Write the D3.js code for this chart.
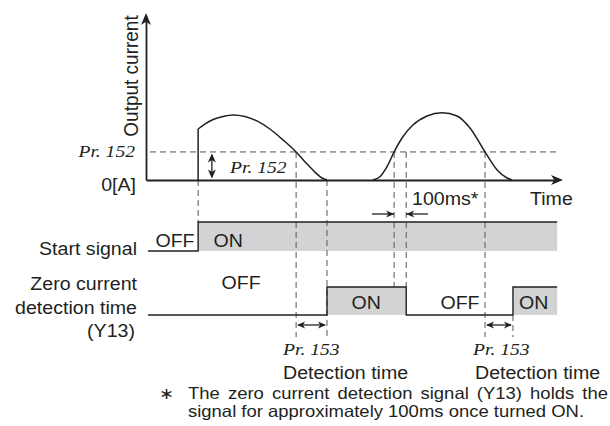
<!DOCTYPE html>
<html><head><meta charset="utf-8">
<script src="https://cdn.jsdelivr.net/npm/d3@7"></script>
<style>html,body{margin:0;padding:0;background:#fff;} svg{display:block}</style>
</head><body><svg id="c" width="610" height="426"></svg>
<script>
// ---------------- data ----------------
// output current (time units 0..100, current units 0..100)
const jump1 = [[12.5, 0], [12.5, 30.9]];
const hump1 = [[12.5,30.9],[14.1,33.9],[16.1,36.7],[18.5,38.5],[20.9,39.4],[23.7,38.5],[26.6,35.8],[29.7,30.9],[32.9,24.2],[36.0,17.0],[38.4,10.3],[40.5,4.8],[42.2,1.2],[43.4,0]];
const hump2 = [[54.4,0],[56.1,2.0],[57.8,8.1],[59.5,17.0],[61.6,26.2],[64.0,33.3],[67.4,38.8],[71.0,40.8],[74.6,38.8],[77.7,31.5],[81.3,17.0],[84.2,6.1],[86.6,1.2],[87.8,0]];
const threshold = 17;          // Pr. 152
const startSignal = [[0.5,0],[12.5,1],[98.6,1]];          // step after
const y13Signal   = [[0.5,0],[43.4,1],[62.4,0],[88.0,1],[98.6,1]];
const startLabels = [["OFF",6.95,0],["ON",19.7,0]];
const y13Labels   = [["OFF",22.8,-1],["ON",52.8,0],["OFF",75.3,0],["ON",93.0,0]];
const footnote = ["The zero current detection signal (Y13) holds the", "signal for approximately 100ms once turned ON."];

// ---------------- setup ----------------
const svg = d3.select("#c");
const INK = "#231f20", DASH = "#555", FILL = "#d1d3d4";
const SX = 1.12, FS = 17.5;
const x = d3.scaleLinear().domain([0,100]).range([146,563]);
const y = d3.scaleLinear().domain([0,100]).range([180,15]);
const yStart = d3.scaleLinear().domain([0,1]).range([251,222]);
const yZero  = d3.scaleLinear().domain([0,1]).range([315,287]);

function txt(px, py, s, o = {}) {
  return svg.append("text")
    .attr("transform", `translate(${px},${py})` + (o.rot ? ` rotate(${o.rot})` : "") + ` scale(${o.sx || SX},${o.sy || 1})`)
    .attr("font-family", o.serif ? "'Liberation Serif','Times New Roman',serif" : "'Liberation Sans',Arial,sans-serif")
    .attr("font-size", o.size || FS)
    .attr("font-style", o.serif ? "italic" : "normal")
    .attr("text-anchor", o.anchor || "start")
    .attr("fill", INK).text(s);
}
function head(tx, ty, ang, len = 9, w = 8) {
  svg.append("path")
    .attr("d", `M0,0 L${-len},${-w/2} L${-len*0.72},0 L${-len},${w/2} Z`)
    .attr("transform", `translate(${tx},${ty}) rotate(${ang})`)
    .attr("fill", INK);
}
function vdash(t, y1, y2) {
  svg.append("line").attr("x1", x(t)).attr("x2", x(t)).attr("y1", y1).attr("y2", y2)
    .attr("stroke", DASH).attr("stroke-width", 1).attr("stroke-dasharray", "6,4");
}
function hline(x1, x2, yy) {
  svg.append("line").attr("x1", x1).attr("x2", x2).attr("y1", yy).attr("y2", yy)
    .attr("stroke", INK).attr("stroke-width", 1.3);
}

// ---------------- signals (fills first) ----------------
const areaS = d3.area().curve(d3.curveStepAfter).x(d => x(d[0])).y0(yStart(0)).y1(d => yStart(d[1]));
const areaZ = d3.area().curve(d3.curveStepAfter).x(d => x(d[0])).y0(yZero(0)).y1(d => yZero(d[1]));
svg.append("path").attr("d", areaS(startSignal)).attr("fill", FILL);
svg.append("path").attr("d", areaZ(y13Signal)).attr("fill", FILL);

// dashed helper lines
const tOn = startSignal[1][0];
vdash(tOn, y(0), yStart(1));
vdash(hump1[9][0], y(threshold), 337);
vdash(hump1[hump1.length-1][0], y(0), 337);
vdash(hump2[3][0], y(threshold), yZero(1));
vdash(y13Signal[2][0], y(threshold), yZero(1));
vdash(hump2[10][0], y(threshold), 337);
vdash(y13Signal[3][0], yZero(0), 337);

// threshold line
svg.append("line").attr("x1", x(0)).attr("x2", x(99.3)).attr("y1", y(threshold)).attr("y2", y(threshold))
  .attr("stroke", DASH).attr("stroke-width", 1).attr("stroke-dasharray", "6,4").attr("stroke-dashoffset", -4);

const lineS = d3.line().curve(d3.curveStepAfter).x(d => x(d[0])).y(d => yStart(d[1]));
const lineZ = d3.line().curve(d3.curveStepAfter).x(d => x(d[0])).y(d => yZero(d[1]));
svg.append("path").attr("d", lineS(startSignal)).attr("fill", "none").attr("stroke", INK).attr("stroke-width", 1.4);
svg.append("path").attr("d", lineZ(y13Signal)).attr("fill", "none").attr("stroke", INK).attr("stroke-width", 1.4);

// ---------------- axes ----------------
const yAxis = d3.axisLeft(d3.scaleLinear().domain([0,1]).range([y(0), 20])).tickValues([]).tickSizeOuter(0);
const xAxis = d3.axisBottom(d3.scaleLinear().domain([0,1]).range([x(0), x(100) - 6])).tickValues([]).tickSizeOuter(0);
svg.append("g").attr("transform", `translate(${x(0)},0)`).call(yAxis)
  .select(".domain").attr("stroke", INK).attr("stroke-width", 1.8);
svg.append("g").attr("transform", `translate(0,${y(0)})`).call(xAxis)
  .select(".domain").attr("stroke", INK).attr("stroke-width", 1.8);
head(x(0), 13, -90, 12, 10);
head(x(100), y(0), 0, 12, 10);

// ---------------- current curve ----------------
const curve = d3.line().curve(d3.curveMonotoneX).x(d => x(d[0])).y(d => y(d[1]));
[jump1, hump1, hump2].forEach(dd =>
  svg.append("path").attr("d", (dd === jump1 ? d3.line().x(d => x(d[0])).y(d => y(d[1])) : curve)(dd))
    .attr("fill", "none").attr("stroke", INK).attr("stroke-width", 1.5));

// Pr.152 double arrow
const ta = 15.8;
svg.append("line").attr("x1", x(ta)).attr("x2", x(ta)).attr("y1", y(threshold) + 3).attr("y2", y(0) - 3)
  .attr("stroke", INK).attr("stroke-width", 1.3);
head(x(ta), y(threshold) + 1.5, -90, 9, 8);
head(x(ta), y(0) - 1.5, 90, 9, 8);

// 100ms arrows
const a100 = 214;
hline(x(54.2), x(hump2[3][0]), a100); head(x(hump2[3][0]), a100, 0, 8, 7);
hline(x(67.6), x(y13Signal[2][0]), a100); head(x(y13Signal[2][0]), a100, 180, 8, 7);

// detection-time double arrows
const aDet = 325;
[[hump1[9][0], y13Signal[1][0]], [hump2[10][0], y13Signal[3][0]]].forEach(([a, b]) => {
  hline(x(a) + 2, x(b) - 2, aDet);
  head(x(a) + 1, aDet, 180, 8, 7);
  head(x(b) - 1, aDet, 0, 8, 7);
});

// ---------------- text ----------------
txt(138, 76, "Output current", { rot: -90, anchor: "middle", sx: 1.0, sy: 1.06, size: 19 });
txt(135, 157, "Pr. 152", { serif: true, anchor: "end" });
txt(136, 191, "0[A]", { anchor: "end" });
txt(230, 173, "Pr. 152", { serif: true });
txt(530, 205, "Time");
txt(412, 205, "100ms*");

txt(137, 255, "Start signal", { anchor: "end" });
txt(137, 290, "Zero current", { anchor: "end" });
txt(137, 314, "detection time", { anchor: "end" });
txt(135, 337, "(Y13)", { anchor: "end" });

startLabels.forEach(([s, t]) => txt(x(t), 247, s, { anchor: "middle" }));
y13Labels.forEach(([s, t, lvl]) => txt(x(t), lvl < 0 ? 289 : 309, s, { anchor: "middle" }));

txt(283, 355, "Pr. 153", { serif: true });
txt(283, 379, "Detection time");
txt(473, 355, "Pr. 153", { serif: true });
txt(475, 379, "Detection time");

const FN = 16.5;
txt(167, 399, "\u2217", { anchor: "middle", size: FN });
const l1 = txt(188, 399, footnote[0], { size: FN });
const nat = l1.node().getComputedTextLength();
const spaces = footnote[0].split(" ").length - 1;
l1.attr("word-spacing", ((608 - 188) / SX - nat) / spaces);
txt(188, 417, footnote[1], { size: FN });
</script></body></html>
